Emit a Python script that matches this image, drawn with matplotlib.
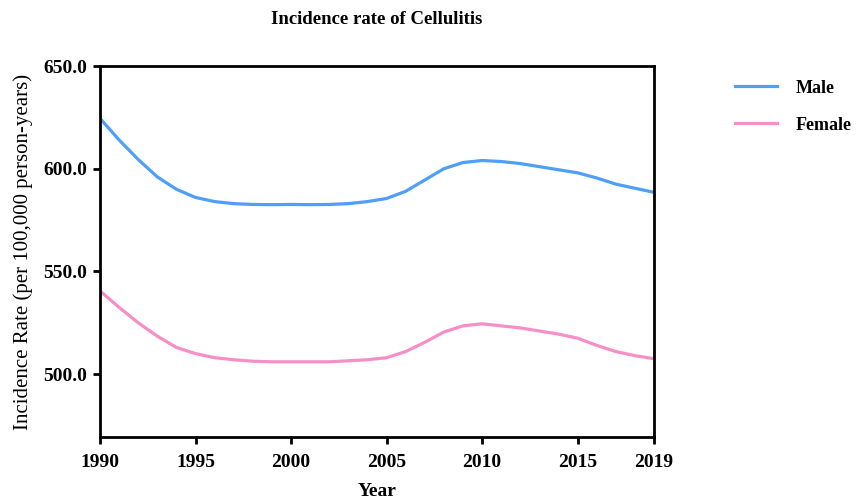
import matplotlib
matplotlib.use("Agg")
import matplotlib.pyplot as plt
from matplotlib.lines import Line2D

years = list(range(1990, 2020))
male = [624.5, 614, 604.5, 596, 590, 586, 584, 583, 582.6, 582.5,
        582.6, 582.5, 582.6, 583, 584, 585.5, 589, 594.5, 600, 603,
        604, 603.5, 602.5, 601, 599.5, 598, 595.5, 592.5, 590.5, 588.5]
female = [540.5, 532.5, 525, 518.5, 513, 510, 508, 507, 506.3, 506,
          506, 506, 506, 506.5, 507, 508, 511, 515.5, 520.5, 523.5,
          524.5, 523.5, 522.5, 521, 519.5, 517.5, 514, 511, 509, 507.5]
xticks = [1990, 1995, 2000, 2005, 2010, 2015, 2019]
yticks = [500, 550, 600, 650]
series_names = ["Male", "Female"]
colors = ["#4d9ff7", "#f58fc6"]

plt.rcParams['font.family'] = ['Liberation Serif', 'DejaVu Serif']

fig = plt.figure(figsize=(8.56, 5.01), dpi=100)
ax = fig.add_axes([100/856, 1-437/501, 554/856, 371/501])

ax.plot(years, male, color=colors[0], lw=2.3, solid_capstyle='butt')
ax.plot(years, female, color=colors[1], lw=2.3, solid_capstyle='butt')

ax.set_xlim(1990, 2019)
ax.set_ylim(469.4, 650)
ax.set_xticks(xticks)
ax.set_xticklabels([str(x) for x in xticks], fontweight='bold', fontsize=14)
ax.set_yticks(yticks)
ax.set_yticklabels([f"{y:.1f}" for y in yticks], fontweight='bold', fontsize=14)
for s in ax.spines.values():
    s.set_linewidth(2.0)
ax.tick_params(axis='both', direction='out', length=5, width=2.0, pad=4)
ax.tick_params(axis='x', pad=7)

ax.set_xlabel("Year", fontweight='bold', fontsize=14, labelpad=9)
ax.set_ylabel("Incidence Rate (per 100,000 person-years)", fontsize=15, labelpad=8)
ax.set_title("Incidence rate of Cellulitis", fontweight='bold', fontsize=13.5, pad=30)

handles = [Line2D([0], [0], color=c, lw=2.3) for c in colors]
fig.legend(handles, series_names, loc='upper left', bbox_to_anchor=(722/856, 1-67/501),
           frameon=False, prop={'weight': 'bold', 'size': 13}, handlelength=2.35,
           handletextpad=1.05, labelspacing=1.1, borderpad=0.2)

fig.savefig("out.png", dpi=100)
